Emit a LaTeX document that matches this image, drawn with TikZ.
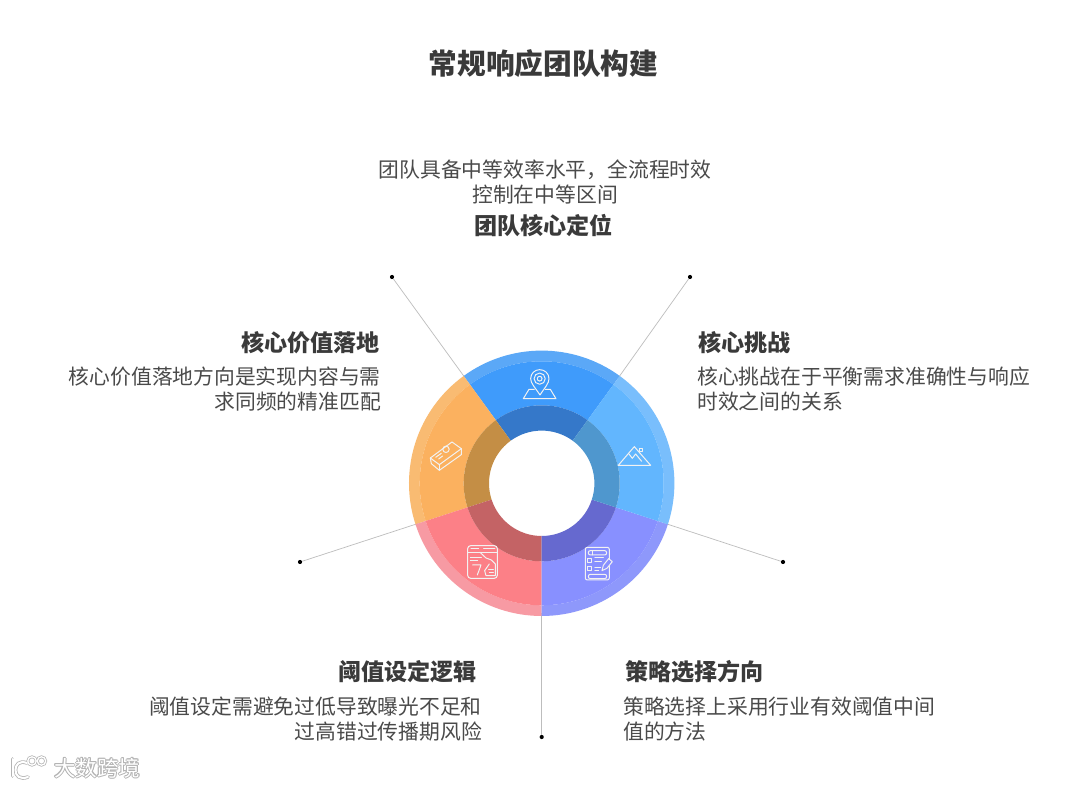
\documentclass[tikz,border=0pt]{standalone}
\usepackage{fontspec}
\setmainfont{Noto Sans CJK SC}
\definecolor{ink}{HTML}{3A3A3A}
\definecolor{ink2}{HTML}{4A4A4A}
\definecolor{leadc}{HTML}{BDBDBD}
\definecolor{blueA}{HTML}{5BA8F7}\definecolor{blueB}{HTML}{3F9BFB}\definecolor{blueC}{HTML}{3578C9}
\definecolor{skyA}{HTML}{79BEFC}\definecolor{skyB}{HTML}{62B6FE}\definecolor{skyC}{HTML}{4F97CE}
\definecolor{vioA}{HTML}{8E98FB}\definecolor{vioB}{HTML}{8890FF}\definecolor{vioC}{HTML}{6669CF}
\definecolor{redA}{HTML}{F79AA3}\definecolor{redB}{HTML}{FC8087}\definecolor{redC}{HTML}{C46365}
\definecolor{orgA}{HTML}{F9BB72}\definecolor{orgB}{HTML}{FBB15F}\definecolor{orgC}{HTML}{C48E45}
\definecolor{wm}{HTML}{B4B4B4}
\tikzset{
  ttl/.style={inner sep=0pt,font=\fontsize{28.7}{30}\selectfont\bfseries,text=ink},
  hd/.style={inner sep=0pt,font=\fontsize{23.1}{26}\selectfont\bfseries,text=ink},
  bd/.style={inner sep=0pt,font=\fontsize{20.8}{25.5}\selectfont,text=ink2},
  dotn/.style={circle,fill=black,inner sep=0pt,minimum size=4.2pt},
  lead/.style={draw=leadc,line width=0.7pt},
  ico/.style={draw=white!90!gray,line width=1pt,line join=round,line cap=round},
  wmtext/.style={inner sep=0pt,font=\fontsize{21.5}{24}\selectfont},
}
\newcommand{\seg}[5]{\fill[#5] (#1:#3pt) arc[start angle=#1,end angle=#2,radius=#3pt] -- (#2:#4pt) arc[start angle=#2,end angle=#1,radius=#4pt] -- cycle;}
\newcommand{\wedgeset}[5]{%
  \seg{#1}{#2}{132.7}{122}{#3}
  \seg{#1}{#2}{122}{78}{#4}
  \seg{#1}{#2}{78}{52.7}{#5}}
\newcommand{\logomark}[3]{%
  \draw[#1,line width=#2,line cap=round] (12.5,759) -- (12.5,776);
  \draw[#1,line width=#2,line cap=round] (27,763) .. controls (19,760) and (15.5,765) .. (15.5,770) .. controls (15.5,776) and (20,780) .. (28,777);
  \draw[#1,line width=#3] (32,761) circle[radius=4.2pt];
  \draw[#1,line width=#3] (41.5,761) circle[radius=4.2pt];}
\begin{document}
\begin{tikzpicture}[x=1pt,y=1pt]
\useasboundingbox (0,0) rectangle (1080,788);
\fill[white] (0,0) rectangle (1080,788);
% dots and leaders
\node[dotn] (d1) at (392,511) {};
\node[dotn] (d2) at (690,511) {};
\node[dotn] (d3) at (783,226) {};
\node[dotn] (d4) at (300,226) {};
\node[dotn] (d5) at (541.7,51) {};
\begin{scope}[shift={(541.7,304.7)}]
\coordinate (e1) at (126:130pt);
\coordinate (e2) at (54:130pt);
\coordinate (e3) at (-18:130pt);
\coordinate (e4) at (198:130pt);
\coordinate (e5) at (270:130pt);
\end{scope}
\draw[lead] (d1) -- (e1);
\draw[lead] (d2) -- (e2);
\draw[lead] (d3) -- (e3);
\draw[lead] (d4) -- (e4);
\draw[lead] (d5) -- (e5);
% ring
\begin{scope}[shift={(541.7,304.7)}]
\wedgeset{54}{126}{blueA}{blueB}{blueC}
\wedgeset{126}{198}{orgA}{orgB}{orgC}
\wedgeset{198}{270}{redA}{redB}{redC}
\wedgeset{270}{342}{vioA}{vioB}{vioC}
\wedgeset{-18}{54}{skyA}{skyB}{skyC}
\end{scope}
% icons, in coordinates of a 3x crop
\begin{scope}[shift={(390,458)},x=0.3333pt,y=-0.3333pt]
% map pin
\draw[ico] (450,195) .. controls (435,172) and (422,160) .. (422,146) .. controls (422,130) and (435,119) .. (449,119) .. controls (464,119) and (477,130) .. (477,146) .. controls (477,160) and (465,172) .. (450,195);
\draw[ico] (449,146) circle[radius=5.6pt];
\draw[ico] (449,146) circle[radius=2.4pt];
\draw[ico] (433,178) -- (417,178) -- (400,206) -- (498,206) -- (481,178) -- (466,178);
% mountain
\draw[ico] (685,406) -- (733,350) -- (782,406) -- cycle;
\draw[ico] (717,372) -- (727,385) -- (737,372) -- (755,394);
\draw[ico] (748,355) rectangle (757,364);
% document and pencil
\draw[ico,rounded corners=2pt] (586,652) rectangle (658,750);
\draw[ico,rounded corners=2pt] (595,662) rectangle (650,675);
\draw[ico] (607,662) -- (607,675);
\draw[ico] (593,685) rectangle (605,697);
\draw[ico] (615,684) -- (640,684);
\draw[ico] (615,695) -- (634,695);
\draw[ico] (593,710) rectangle (605,722);
\draw[ico] (615,714) -- (632,714);
\draw[ico] (615,723) -- (626,723);
\draw[ico,rounded corners=2pt] (595,733) rectangle (650,746);
\draw[ico,fill=vioB] (636,722) -- (640,706) -- (656,686) -- (667,695) -- (651,715) -- cycle;
% browser window
\draw[ico,rounded corners=3pt] (233,647) rectangle (322,745);
\draw[ico] (233,667) -- (322,667);
\draw[ico] (243,656) -- (266,656);
\draw[ico] (281,656) -- (315,656);
\draw[ico] (241,682) -- (274,682);
\draw[ico] (241,693) -- (263,693);
\draw[ico] (248,705) -- (273,705) -- (262,735);
\draw[ico] (270,667) -- (288,684) -- (304,690) -- (316,702) -- (316,737) -- (288,737) -- (284,722) -- (298,702);
\draw[ico] (296,718) -- (310,718);
\draw[ico] (298,728) -- (310,728);
% gold bar
\draw[ico] (121,384) -- (186,336) -- (214,356) -- (148,404) -- cycle;
\draw[ico] (121,384) -- (124,401) -- (148,421) -- (214,374) -- (214,356);
\draw[ico] (148,404) -- (148,421);
\draw[ico] (168,358) circle[radius=3.2pt];
\draw[ico] (137,382) -- (154,370);
\draw[ico] (146,387) -- (158,378);
\end{scope}
% texts
\node[ttl] (title) at (543.5,724) {常规响应团队构建};
\node[bd] (t1) at (545,618.5) {团队具备中等效率水平，全流程时效};
\node[bd] (t2) at (545,593) {控制在中等区间};
\node[hd] (t3) at (543.5,562) {团队核心定位};
\node[hd,anchor=east] (l1) at (380,445) {核心价值落地};
\node[bd,anchor=east] (l2) at (381,411.5) {核心价值落地方向是实现内容与需};
\node[bd,anchor=east] (l3) at (381,386.5) {求同频的精准匹配};
\node[hd,anchor=west] (r1) at (698,445) {核心挑战};
\node[bd,anchor=west] (r2) at (697,411.5) {核心挑战在于平衡需求准确性与响应};
\node[bd,anchor=west] (r3) at (697,386.5) {时效之间的关系};
\node[hd,anchor=east] (bl1) at (477,116) {阈值设定逻辑};
\node[bd,anchor=east] (bl2) at (482,81.5) {阈值设定需避免过低导致曝光不足和};
\node[bd,anchor=east] (bl3) at (482,56.5) {过高错过传播期风险};
\node[hd,anchor=west] (br1) at (625,116) {策略选择方向};
\node[bd,anchor=west] (br2) at (623,81.5) {策略选择上采用行业有效阈值中间};
\node[bd,anchor=west] (br3) at (623,56.5) {值的方法};
% watermark
\begin{scope}[yscale=-1,yshift=-788pt]
\logomark{draw=wm}{3.6pt}{2.8pt}
\logomark{draw=white}{2pt}{1.3pt}
\end{scope}
\foreach \dx/\dy [count=\n] in {-.9/0,.9/0,0/-.9,0/.9,-.7/-.7,.7/-.7,-.7/.7,.7/.7}
  \node[wmtext,text=wm,anchor=west] (wmh\n) at (54+\dx,20+\dy) {大数跨境};
\node[wmtext,text=white,anchor=west] (wm) at (54,20) {大数跨境};
\end{tikzpicture}
\end{document}
